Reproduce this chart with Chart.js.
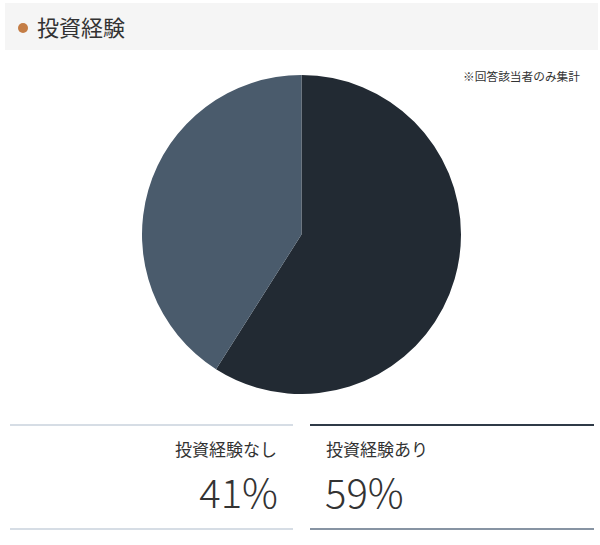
<!DOCTYPE html>
<html>
<head>
<meta charset="utf-8">
<script src="https://cdn.jsdelivr.net/npm/chart.js@4/dist/chart.umd.min.js"></script>
<style>
  body { margin: 0; width: 600px; height: 545px; background: #fff; position: relative; overflow: hidden;
         font-family: "Noto Sans CJK JP", "Noto Sans", sans-serif; color: #333; }
  .head { position: absolute; left: 5px; top: 3px; width: 593px; height: 47px; background: #f5f5f5; }
  .head .dot { position: absolute; left: 13px; top: 20px; width: 10px; height: 10px; border-radius: 50%; background: #c47d45; }
  .head .ttl { position: absolute; left: 32px; top: 8px; font-size: 22px; line-height: 30px; color: #333; }
  .note { position: absolute; right: 20px; top: 67px; font-size: 11.7px; color: #333; }
  #wrap { position: absolute; left: 142px; top: 75px; width: 319px; height: 319px; }
  .box { position: absolute; top: 424px; height: 102px; }
  .box .lab { position: absolute; top: 11px; font-size: 17px; line-height: 24px; }
  .box .num { position: absolute; top: 38px; font-size: 40px; line-height: 54px; font-weight: 300; }
</style>
</head>
<body>
<div class="head"><div class="dot"></div><div class="ttl">投資経験</div></div>
<div class="note">※回答該当者のみ集計</div>
<div id="wrap"><canvas id="myChart" width="319" height="319"></canvas></div>
<div id="boxes"></div>
<script>
var labels = ['投資経験あり', '投資経験なし'];
var values = [59, 41];
var colors = ['#222a33', '#4a5b6c'];

window.onload = function() {
  // summary boxes under the pie (left = なし, right = あり)
  var boxes = document.getElementById('boxes');
  var specs = [
    { i: 1, left: 10, width: 283, align: 'right', top: '#d6dde5', bottom: '#d6dde5' },
    { i: 0, left: 310, width: 284, align: 'left', top: '#2f3a47', bottom: '#8794a3' }
  ];
  specs.forEach(function(s) {
    var b = document.createElement('div');
    b.className = 'box';
    b.style.left = s.left + 'px';
    b.style.width = s.width + 'px';
    b.style.borderTop = '2px solid ' + s.top;
    b.style.borderBottom = '2px solid ' + s.bottom;
    var side = s.align === 'right' ? 'right' : 'left';
    b.innerHTML = '<div class="lab" style="' + side + ':16px">' + labels[s.i] + '</div>' +
                  '<div class="num" style="' + side + ':15px">' + values[s.i] + '%</div>';
    boxes.appendChild(b);
  });

  const data = {
    labels: labels,
    datasets: [{
      data: values,
      backgroundColor: colors,
      borderWidth: 0
    }]
  };

  const config = {
    type: 'pie',
    data: data,
    options: {
      responsive: false,
      animation: false,
      layout: { padding: 0 },
      plugins: { legend: { display: false }, tooltip: { enabled: false } }
    }
  };

  const myChart = new Chart(document.getElementById('myChart'), config);
};
</script>
</body>
</html>
